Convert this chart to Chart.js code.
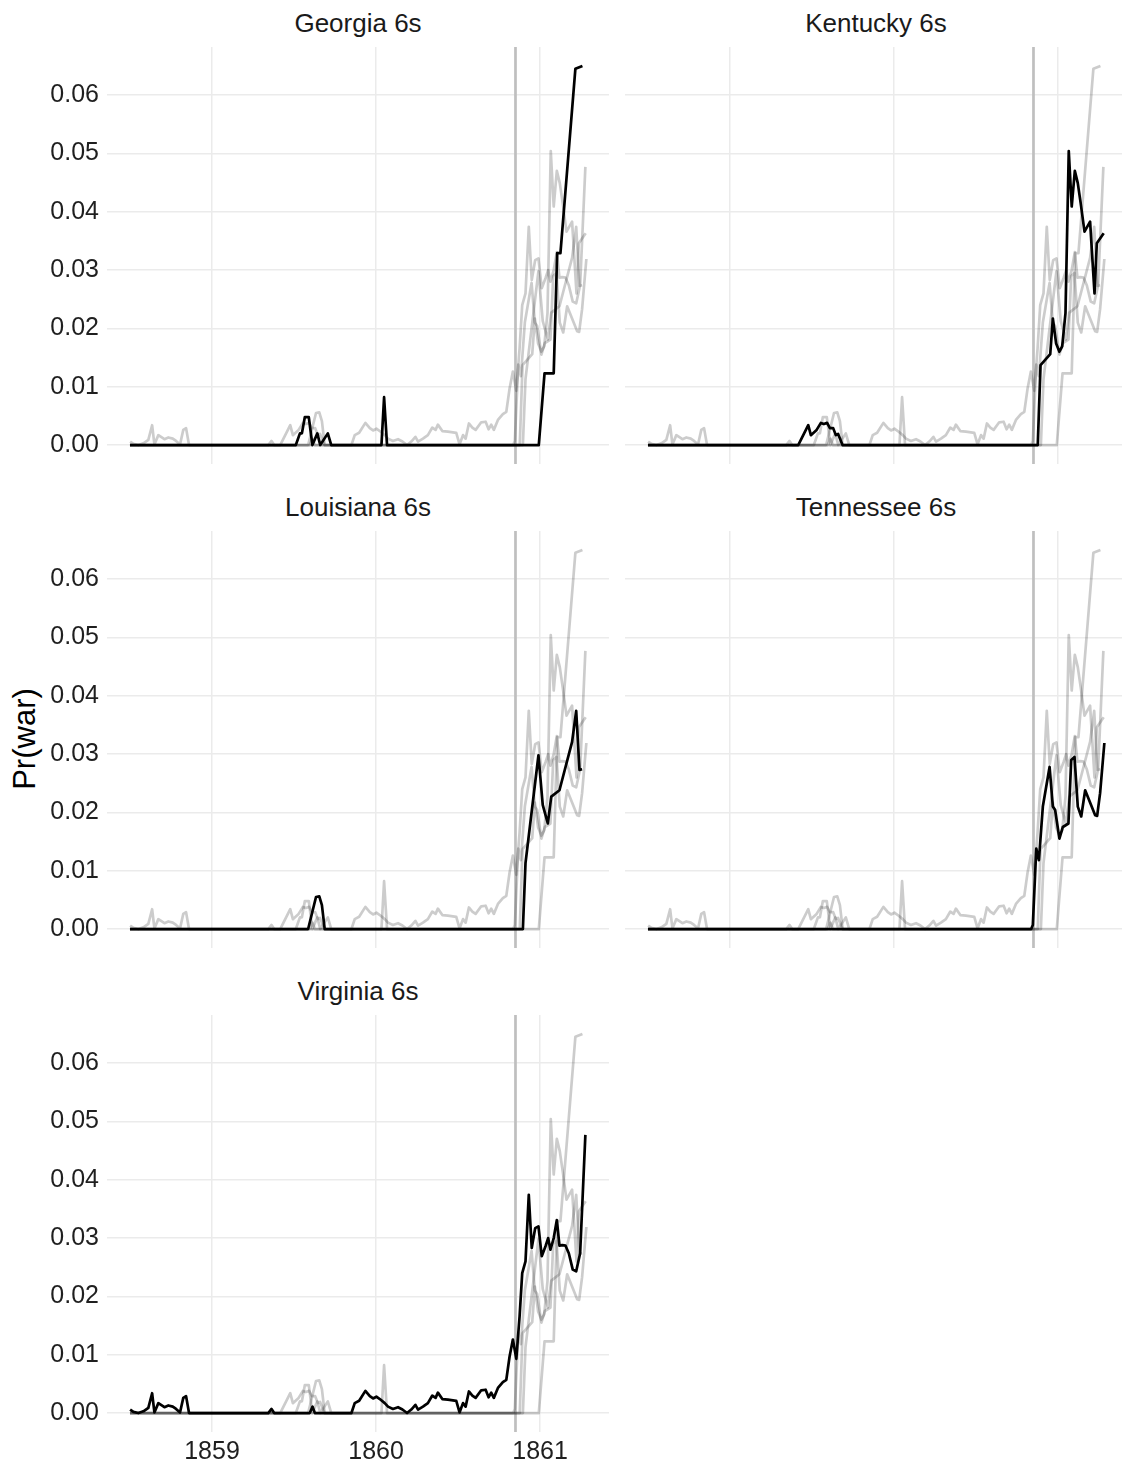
<!DOCTYPE html>
<html>
<head>
<meta charset="utf-8">
<title>Pr(war) by bond</title>
<script src="https://cdn.jsdelivr.net/npm/chart.js@4.4.1/dist/chart.umd.min.js"></script>
<style>
  html, body { margin: 0; padding: 0; background: #fff; overflow: hidden; }
  body { position: relative; width: 1122px; height: 1464px; font-family: "Liberation Sans", Arial, sans-serif; }
  canvas { position: absolute; }
  .strip { position: absolute; font-size: 26px; line-height: 26px; color: #1a1a1a; text-align: center; white-space: nowrap; }
  .ytitle { position: absolute; left: -75px; top: 723px; width: 200px; height: 32px; line-height: 32px;
            font-size: 31px; color: #000; text-align: center; transform: rotate(-90deg); }
</style>
</head>
<body>
<div class="ytitle">Pr(war)</div>
<script>
// --- data ---
const panelNames = ["Georgia 6s", "Kentucky 6s", "Louisiana 6s", "Tennessee 6s", "Virginia 6s"];
const xTicks = [1859, 1860, 1861];
const yTicks = [0, 0.01, 0.02, 0.03, 0.04, 0.05, 0.06];
const electionDate = 1860.85;

const georgiaYears = [1858.50, 1859.511, 1859.536, 1859.548, 1859.566, 1859.590, 1859.612, 1859.642, 1859.660,
  1859.706, 1859.727, 1860.033, 1860.049, 1860.067, 1860.992, 1861.027, 1861.083, 1861.104, 1861.124,
  1861.215, 1861.258];
const georgiaValues = [0, 0, 0.0020, 0.0020, 0.0048, 0.0048, 0, 0.0020, 0,
  0.0020, 0, 0, 0.0082, 0, 0, 0.0123, 0.0123, 0.0329, 0.0329,
  0.0645, 0.0650];

const kentuckyYears = [1858.50, 1859.416, 1859.477, 1859.493, 1859.528, 1859.554, 1859.572, 1859.592, 1859.609,
  1859.629, 1859.645, 1859.659, 1859.686, 1860.876, 1860.893, 1860.952, 1860.968, 1860.988, 1861.008,
  1861.025, 1861.045, 1861.065, 1861.083, 1861.102, 1861.120, 1861.138, 1861.161, 1861.195, 1861.222,
  1861.236, 1861.278];
const kentuckyValues = [0, 0, 0.0034, 0.0017, 0.0026, 0.0038, 0.0036, 0.0038, 0.0029,
  0.0029, 0.0017, 0.0019, 0, 0, 0.0137, 0.0156, 0.0217, 0.0174, 0.0160,
  0.0169, 0.0226, 0.0504, 0.0409, 0.0470, 0.0449, 0.0414, 0.0366, 0.0383, 0.0260,
  0.0346, 0.0363];

const louisianaYears = [1858.50, 1859.586, 1859.634, 1859.654, 1859.670, 1859.687, 1860.895, 1860.911, 1860.990,
  1861.016, 1861.047, 1861.068, 1861.118, 1861.195, 1861.220, 1861.240, 1861.256];
const louisianaValues = [0, 0, 0.0055, 0.0056, 0.0041, 0, 0, 0.0113, 0.0298,
  0.0213, 0.0181, 0.0227, 0.0238, 0.0321, 0.0374, 0.0273, 0.0274];

const tennesseeYears = [1858.50, 1860.836, 1860.846, 1860.867, 1860.883, 1860.907, 1860.948, 1860.968, 1860.982,
  1861.008, 1861.029, 1861.063, 1861.080, 1861.100, 1861.120, 1861.141, 1861.165, 1861.226, 1861.238,
  1861.256, 1861.282];
const tennesseeValues = [0, 0, 0.0007, 0.0138, 0.0118, 0.0210, 0.0278, 0.0210, 0.0204,
  0.0155, 0.0175, 0.0181, 0.0290, 0.0295, 0.0210, 0.0193, 0.0238, 0.0195, 0.0194,
  0.0233, 0.0319];

const virginiaYears = [
  1858.501, 1858.521, 1858.551, 1858.582, 1858.612, 1858.635, 1858.649, 1858.673, 1858.694, 1858.710,
  1858.734, 1858.761, 1858.781, 1858.805, 1858.825, 1858.842, 1858.860,
  1859.343, 1859.363, 1859.379, 1859.596, 1859.613, 1859.627,
  1859.850, 1859.870, 1859.897, 1859.935, 1859.962, 1859.982,
  1860.002, 1860.023, 1860.053, 1860.073, 1860.103, 1860.134, 1860.161, 1860.189, 1860.215, 1860.240,
  1860.256, 1860.286, 1860.316, 1860.343, 1860.363, 1860.377, 1860.404, 1860.438, 1860.489, 1860.509,
  1860.530, 1860.546, 1860.566, 1860.587, 1860.607, 1860.641, 1860.668, 1860.686, 1860.702, 1860.718,
  1860.743, 1860.773, 1860.794, 1860.814, 1860.834, 1860.855, 1860.875, 1860.891, 1860.911, 1860.931,
  1860.949, 1860.970, 1860.990, 1861.010, 1861.033, 1861.049, 1861.063, 1861.083, 1861.102, 1861.118,
  1861.135, 1861.155, 1861.175, 1861.199, 1861.220, 1861.244, 1861.276];
const virginiaValues = [
  0.0006, 0.0002, 0, 0.0003, 0.0009, 0.0034, 0.0001, 0.0017, 0.0013, 0.0010,
  0.0013, 0.0011, 0.0007, 0.0001, 0.0026, 0.0029, 0,
  0, 0.0007, 0, 0, 0.0011, 0,
  0, 0.0017, 0.0021, 0.0038, 0.0029, 0.0025,
  0.0028, 0.0024, 0.0017, 0.0011, 0.0007, 0.0010, 0.0006, 0, 0.0006, 0.0014,
  0.0006, 0.0011, 0.0017, 0.0030, 0.0026, 0.0035, 0.0024, 0.0023, 0.0021, 0.0001,
  0.0017, 0.0011, 0.0037, 0.0030, 0.0026, 0.0039, 0.0040, 0.0027, 0.0035, 0.0026,
  0.0043, 0.0053, 0.0057, 0.0097, 0.0126, 0.0093, 0.0166, 0.0240, 0.0260, 0.0374,
  0.0283, 0.0317, 0.0320, 0.0269, 0.0286, 0.0300, 0.0280, 0.0300, 0.0331, 0.0287,
  0.0288, 0.0287, 0.0274, 0.0246, 0.0243, 0.0274, 0.0477];

// --- layout ---
const X_MIN = 1858.36, X_MAX = 1861.42;
const Y_MIN = -0.00325, Y_MAX = 0.06825;
const FONT = "'Liberation Sans', Arial, sans-serif";
const GRID = "#ebebeb";

const allYears = [georgiaYears, kentuckyYears, louisianaYears, tennesseeYears, virginiaYears];
const allValues = [georgiaValues, kentuckyValues, louisianaValues, tennesseeValues, virginiaValues];

const panelBoxes = [
  { left: 0,   top: 47,   width: 612, height: 417, yAxis: 107, xAxis: 0,  padRight: 3 },
  { left: 625, top: 47,   width: 502, height: 417, yAxis: 0,   xAxis: 0,  padRight: 0 },
  { left: 0,   top: 531,  width: 612, height: 417, yAxis: 107, xAxis: 0,  padRight: 3 },
  { left: 625, top: 531,  width: 502, height: 417, yAxis: 0,   xAxis: 0,  padRight: 0 },
  { left: 0,   top: 1015, width: 612, height: 449, yAxis: 107, xAxis: 32, padRight: 3 },
];

function toPoints(years, values) {
  return years.map((yr, i) => ({ x: yr, y: values[i] }));
}

function addStrip(name, box) {
  const div = document.createElement("div");
  div.className = "strip";
  div.textContent = name;
  div.style.left = (box.left + box.yAxis) + "px";
  div.style.width = (box.width - box.yAxis - box.padRight) + "px";
  div.style.top = (box.top - 37) + "px";
  document.body.appendChild(div);
}

function drawPanel(idx) {
  const box = panelBoxes[idx];
  const canvas = document.createElement("canvas");
  canvas.width = box.width;
  canvas.height = box.height;
  canvas.style.left = box.left + "px";
  canvas.style.top = box.top + "px";
  document.body.appendChild(canvas);
  addStrip(panelNames[idx], box);

  const datasets = [{
    data: toPoints(allYears[idx], allValues[idx]),
    borderColor: "#000000",
    borderWidth: 2.7,
    order: 0,
  }];
  allYears.forEach((yrs, j) => {
    if (j === idx) return;
    datasets.push({
      data: toPoints(yrs, allValues[j]),
      borderColor: "rgba(0,0,0,0.2)",
      borderWidth: 2.7,
      order: 1,
    });
  });
  // election marker
  datasets.push({
    data: [{ x: electionDate, y: Y_MIN }, { x: electionDate, y: Y_MAX }],
    borderColor: "#bfbfbf",
    borderWidth: 2.7,
    order: 2,
  });

  new Chart(canvas, {
    type: "line",
    data: { datasets },
    options: {
      responsive: false,
      animation: false,
      devicePixelRatio: 1,
      events: [],
      elements: {
        point: { radius: 0 },
        line: { tension: 0, borderJoinStyle: "round", borderCapStyle: "butt", fill: false },
      },
      layout: { padding: { top: 0, bottom: 0, left: 0, right: box.padRight } },
      plugins: { legend: { display: false }, tooltip: { enabled: false }, title: { display: false } },
      scales: {
        x: {
          type: "linear",
          min: X_MIN,
          max: X_MAX,
          afterBuildTicks: (s) => { s.ticks = xTicks.map((v) => ({ value: v })); },
          afterFit: (s) => {
            s.height = box.xAxis;
            s.paddingLeft = 0;
            s.paddingRight = 0;
          },
          border: { display: false },
          grid: { color: GRID, lineWidth: 1.5, drawTicks: false },
          ticks: {
            display: box.xAxis > 0,
            autoSkip: false,
            maxRotation: 0,
            padding: 5,
            color: "#1f1f1f",
            font: { family: FONT, size: 25 },
            callback: (v) => String(v),
          },
        },
        y: {
          type: "linear",
          min: Y_MIN,
          max: Y_MAX,
          afterBuildTicks: (s) => { s.ticks = yTicks.map((v) => ({ value: v })); },
          afterFit: (s) => {
            s.width = box.yAxis;
            s.paddingTop = 0;
            s.paddingBottom = 0;
          },
          border: { display: false },
          grid: { color: GRID, lineWidth: 1.5, drawTicks: false },
          ticks: {
            display: box.yAxis > 0,
            padding: 8,
            color: "#1f1f1f",
            font: { family: FONT, size: 25 },
            callback: (v) => v.toFixed(2),
          },
        },
      },
    },
  });
}

panelNames.forEach((_, i) => drawPanel(i));
</script>
</body>
</html>
